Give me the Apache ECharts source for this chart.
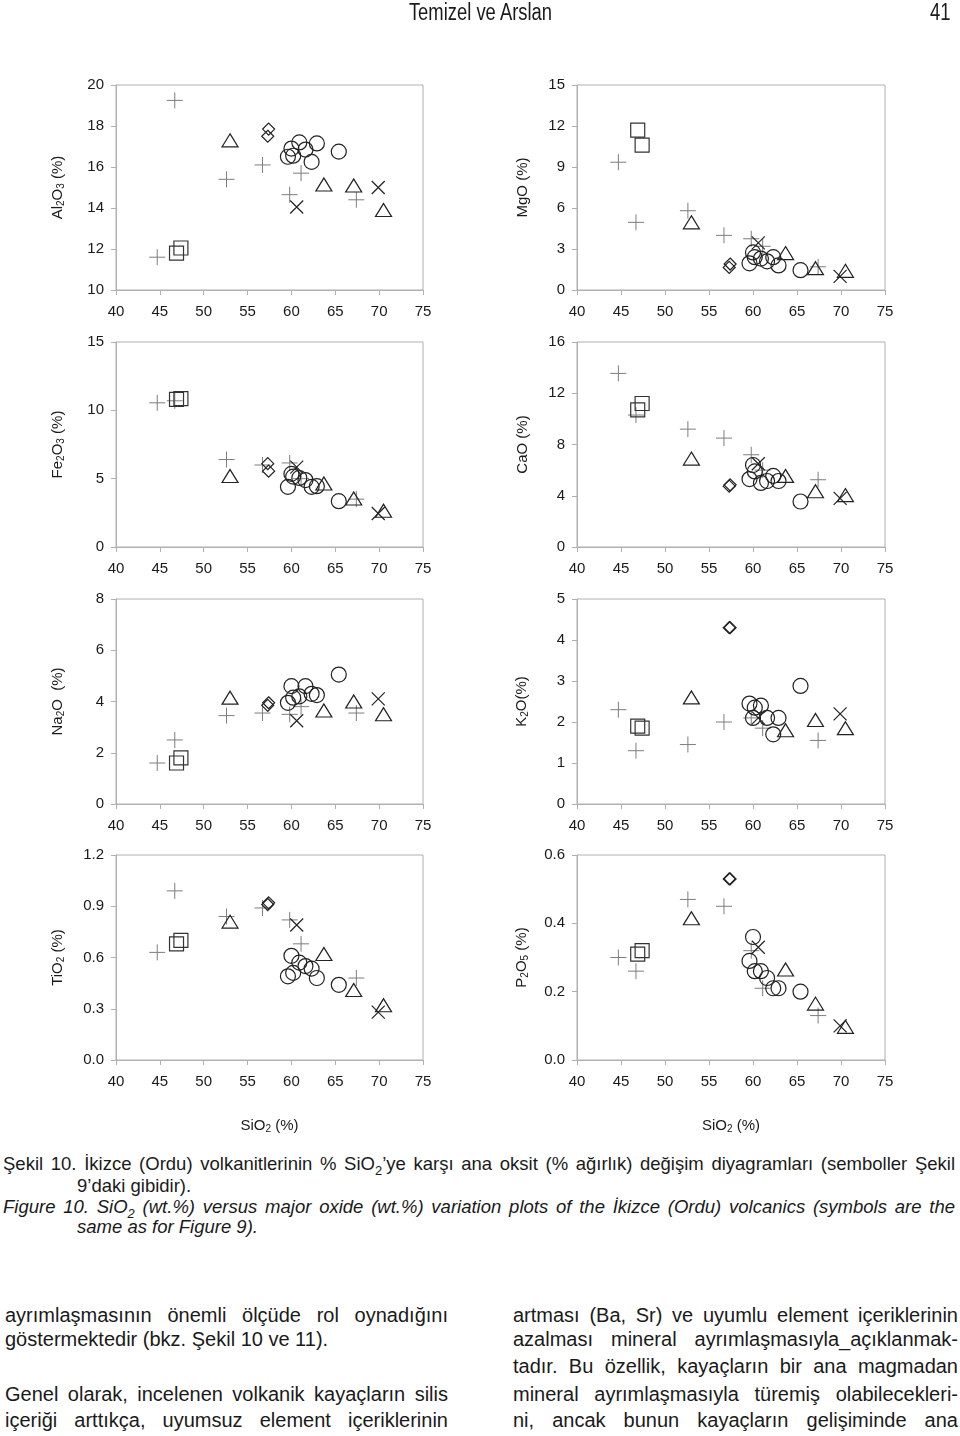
<!DOCTYPE html>
<html><head><meta charset="utf-8">
<script src="https://cdn.jsdelivr.net/npm/echarts/dist/echarts.min.js"></script>
<style>
html,body{margin:0;padding:0;background:#fff}
body{width:960px;height:1436px;position:relative;overflow:hidden;font-family:'Liberation Sans',Arial,Helvetica,sans-serif;color:#1a1a1a}
#chart{position:absolute;left:0;top:0;width:960px;height:1140px;z-index:1}
.ln{position:absolute;white-space:nowrap;transform-origin:0 0;z-index:2}
.j{text-align:justify;text-align-last:justify}
.cap{font-size:18.5px;line-height:21px}
.it{font-style:italic}
.body{font-size:20px;line-height:24px}
sub{font-size:70%;line-height:0;vertical-align:-0.35em}
</style></head>
<body>
<div class="ln" style="left:0;top:0px;width:960px;text-align:center;font-size:23px;line-height:24px;"><span style="display:inline-block;transform:scaleX(0.8)">Temizel ve Arslan</span></div>
<div class="ln" style="left:930px;top:0px;font-size:23px;line-height:24px;"><span style="display:inline-block;transform:scaleX(0.8);transform-origin:0 0">41</span></div>
<div id="chart"></div>

<div class="ln cap j" style="left:3px;top:1153px;width:952px">Şekil 10. İkizce (Ordu) volkanitlerinin % SiO<sub>2</sub>’ye karşı ana oksit (% ağırlık) değişim diyagramları (semboller Şekil</div>
<div class="ln cap" style="left:77px;top:1175px">9’daki gibidir).</div>
<div class="ln cap j it" style="left:3px;top:1196px;width:952px">Figure 10. SiO<sub>2</sub> (wt.%) versus major oxide (wt.%) variation plots of the İkizce (Ordu) volcanics (symbols are the</div>
<div class="ln cap it" style="left:77px;top:1216px">same as for Figure 9).</div>

<div class="ln body j" style="left:5px;top:1303px;width:443px">ayrımlaşmasının önemli ölçüde rol oynadığını</div>
<div class="ln body" style="left:5px;top:1327px">göstermektedir (bkz. Şekil 10 ve 11).</div>
<div class="ln body j" style="left:5px;top:1382px;width:443px">Genel olarak, incelenen volkanik kayaçların silis</div>
<div class="ln body j" style="left:5px;top:1408px;width:443px">içeriği arttıkça, uyumsuz element içeriklerinin</div>

<div class="ln body j" style="left:513px;top:1303px;width:445px">artması (Ba, Sr) ve uyumlu element içeriklerinin</div>
<div class="ln body j" style="left:513px;top:1327px;width:445px">azalması mineral ayrımlaşmasıyla_açıklanmak-</div>
<div class="ln body j" style="left:513px;top:1354px;width:445px">tadır. Bu özellik, kayaçların bir ana magmadan</div>
<div class="ln body j" style="left:513px;top:1382px;width:445px">mineral ayrımlaşmasıyla türemiş olabilecekleri-</div>
<div class="ln body j" style="left:513px;top:1408px;width:445px">ni, ancak bunun kayaçların gelişiminde ana</div>

<script>
// ---- SiO2 (x) values for each symbol group ----
const siPlus   = [44.7, 46.7, 52.6, 56.7, 59.8, 61.1, 67.4];
const siSquare = [46.9, 47.4];
const siTri    = [53.0, 63.7, 67.1, 70.5];
const siDia    = [57.3, 57.4];
const siCirc   = [59.6, 60.0, 60.2, 60.9, 61.6, 62.3, 62.9, 65.4];
const siCross  = [60.6, 69.9];

// ---- Al2O3 ----
const al2o3Plus   = [11.6, 19.25, 15.4, 16.1, 14.65, 15.7, 14.4];
const al2o3Square = [11.8, 12.05];
const al2o3Tri    = [17.3, 15.15, 15.1, 13.9];
const al2o3Dia    = [17.5, 17.85];
const al2o3Circ   = [16.5, 16.9, 16.55, 17.2, 16.85, 16.25, 17.15, 16.75];
const al2o3Cross  = [14.05, 15.0];
// ---- MgO ----
const mgoPlus   = [9.35, 4.95, 5.8, 4.0, 3.75, 3.2, 1.7];
const mgoSquare = [11.7, 10.6];
const mgoTri    = [4.95, 2.7, 1.6, 1.4];
const mgoDia    = [1.65, 1.9];
const mgoCirc   = [1.95, 2.75, 2.4, 2.3, 2.1, 2.4, 1.8, 1.45];
const mgoCross  = [3.45, 1.0];
// ---- Fe2O3 ----
const fe2o3Plus   = [10.55, 10.7, 6.4, 6.0, 6.15, 5.0, 3.5];
const fe2o3Square = [10.8, 10.85];
const fe2o3Tri    = [5.2, 4.65, 3.55, 2.65];
const fe2o3Dia    = [6.1, 5.55];
const fe2o3Circ   = [4.4, 5.35, 5.15, 5.05, 4.9, 4.4, 4.45, 3.35];
const fe2o3Cross  = [5.85, 2.45];
// ---- CaO ----
const caoPlus   = [13.55, 10.3, 9.2, 8.5, 7.2, 6.0, 5.25];
const caoSquare = [10.7, 11.2];
const caoTri    = [6.9, 5.55, 4.35, 4.05];
const caoDia    = [4.75, 4.85];
const caoCirc   = [5.3, 6.4, 5.9, 5.0, 5.15, 5.55, 5.15, 3.55];
const caoCross  = [6.5, 3.8];
// ---- Na2O ----
const na2oPlus   = [1.6, 2.5, 3.45, 3.55, 3.5, 3.8, 3.55];
const na2oSquare = [1.6, 1.8];
const na2oTri    = [4.15, 3.65, 4.0, 3.5];
const na2oDia    = [3.85, 3.95];
const na2oCirc   = [3.95, 4.6, 4.15, 4.2, 4.6, 4.3, 4.25, 5.05];
const na2oCross  = [3.25, 4.1];
// ---- K2O ----
const k2oPlus   = [2.3, 1.3, 1.45, 2.0, 2.1, 1.85, 1.55];
const k2oSquare = [1.9, 1.85];
const k2oTri    = [2.6, 1.8, 2.05, 1.85];
const k2oDia    = [4.3, 4.3];
const k2oCirc   = [2.45, 2.1, 2.35, 2.4, 2.1, 1.7, 2.1, 2.88];
const k2oCross  = [2.1, 2.2];
// ---- TiO2 ----
const tio2Plus   = [0.63, 0.99, 0.84, 0.89, 0.82, 0.68, 0.48];
const tio2Square = [0.68, 0.70];
const tio2Tri    = [0.81, 0.62, 0.41, 0.32];
const tio2Dia    = [0.91, 0.92];
const tio2Circ   = [0.49, 0.61, 0.51, 0.57, 0.55, 0.535, 0.48, 0.44];
const tio2Cross  = [0.79, 0.28];
// ---- P2O5 ----
const p2o5Plus   = [0.30, 0.26, 0.47, 0.45, 0.32, 0.21, 0.13];
const p2o5Square = [0.31, 0.32];
const p2o5Tri    = [0.415, 0.265, 0.165, 0.097];
const p2o5Dia    = [0.53, 0.53];
const p2o5Circ   = [0.29, 0.36, 0.26, 0.26, 0.24, 0.21, 0.21, 0.20];
const p2o5Cross  = [0.33, 0.10];

// ---- axis labels / ranges ----
const xTicks = [40, 45, 50, 55, 60, 65, 70, 75];
const yNames = ['{n|Al}{s|2}{n|O}{s|3}{n| (%)}', '{n|MgO (%)}', '{n|Fe}{s|2}{n|O}{s|3}{n| (%)}', '{n|CaO (%)}',
                '{n|Na}{s|2}{n|O  (%)}', '{n|K}{s|2}{n|O(%)}', '{n|TiO}{s|2}{n| (%)}', '{n|P}{s|2}{n|O}{s|5}{n| (%)}'];
const yMin = [10, 0, 0, 0, 0, 0, 0, 0];
const yMax = [20, 15, 15, 16, 8, 5, 1.2, 0.6];
const yStep = [2, 3, 5, 4, 2, 1, 0.3, 0.2];
const yDec = [0, 0, 0, 0, 0, 0, 1, 1];

const panels = [
  [al2o3Plus, al2o3Square, al2o3Tri, al2o3Dia, al2o3Circ, al2o3Cross],
  [mgoPlus, mgoSquare, mgoTri, mgoDia, mgoCirc, mgoCross],
  [fe2o3Plus, fe2o3Square, fe2o3Tri, fe2o3Dia, fe2o3Circ, fe2o3Cross],
  [caoPlus, caoSquare, caoTri, caoDia, caoCirc, caoCross],
  [na2oPlus, na2oSquare, na2oTri, na2oDia, na2oCirc, na2oCross],
  [k2oPlus, k2oSquare, k2oTri, k2oDia, k2oCirc, k2oCross],
  [tio2Plus, tio2Square, tio2Tri, tio2Dia, tio2Circ, tio2Cross],
  [p2o5Plus, p2o5Square, p2o5Tri, p2o5Dia, p2o5Circ, p2o5Cross]
];
const groupSi = [siPlus, siSquare, siTri, siDia, siCirc, siCross];
const groupStyle = [
  {symbol: 'path://M5,0L5,10M0,5L10,5', size: 16, color: '#7d7d7d', w: 1},
  {symbol: 'rect', size: 14, color: '#333', w: 1.2},
  {symbol: 'triangle', size: [16, 13], color: '#222', w: 1.2},
  {symbol: 'diamond', size: 12, color: '#222', w: 1.2},
  {symbol: 'circle', size: 15, color: '#222', w: 1.2},
  {symbol: 'path://M0,0L10,10M10,0L0,10', size: 13, color: '#222', w: 1.2}
];

const colLeft = [116, 577], colWidth = [307, 308];
const rowTop = [85, 342, 599, 855], rowH = 205;
const FONT = "'Liberation Sans', Arial, Helvetica, sans-serif";
const AX = '#b0b0b0';

const grids = [], xAxes = [], yAxes = [], series = [];
panels.forEach((groups, i) => {
  const c = i % 2, r = Math.floor(i / 2);
  grids.push({left: colLeft[c], width: colWidth[c], top: rowTop[r], height: rowH,
    show: true, borderColor: AX, borderWidth: 1, backgroundColor: 'transparent'});
  const bottom = r === 3;
  xAxes.push({gridIndex: i, type: 'value', min: xTicks[0], max: xTicks[xTicks.length - 1], interval: 5,
    axisLine: {show: true, onZero: false, lineStyle: {color: AX}},
    axisTick: {show: true, length: 5, lineStyle: {color: AX}},
    splitLine: {show: false},
    axisLabel: {color: '#1a1a1a', fontSize: 15, fontFamily: FONT, margin: 14},
    name: bottom ? '{n|SiO}{s|2}{n| (%)}' : '', nameLocation: 'middle', nameGap: 57,
    nameTextStyle: {color: '#1a1a1a', fontFamily: FONT,
      rich: {n: {fontSize: 15, fontFamily: FONT, color: '#1a1a1a'}, s: {fontSize: 10, fontFamily: FONT, color: '#1a1a1a', verticalAlign: 'bottom', padding: [7, 0, 0, 0]}}}
  });
  yAxes.push({gridIndex: i, type: 'value', min: yMin[i], max: yMax[i], interval: yStep[i],
    axisLine: {show: true, onZero: false, lineStyle: {color: AX}},
    axisTick: {show: true, length: 5, lineStyle: {color: AX}},
    splitLine: {show: false},
    axisLabel: {color: '#1a1a1a', fontSize: 15, fontFamily: FONT, margin: 12,
      formatter: v => v.toFixed(yDec[i])},
    name: yNames[i], nameLocation: 'middle', nameRotate: 90, nameGap: c === 0 ? 50 : 47,
    nameTextStyle: {color: '#1a1a1a', fontFamily: FONT,
      rich: {n: {fontSize: 15, fontFamily: FONT, color: '#1a1a1a'}, s: {fontSize: 10, fontFamily: FONT, color: '#1a1a1a', verticalAlign: 'bottom', padding: [7, 0, 0, 0]}}}
  });
  groups.forEach((vals, g) => {
    const st = groupStyle[g];
    series.push({type: 'scatter', xAxisIndex: i, yAxisIndex: i, silent: true,
      symbol: st.symbol, symbolSize: st.size,
      itemStyle: {color: 'rgba(0,0,0,0)', borderColor: st.color, borderWidth: st.w, opacity: 1},
      emphasis: {disabled: true},
      data: vals.map((v, k) => [groupSi[g][k], v])});
  });
});

const chart = echarts.init(document.getElementById('chart'), null, {renderer: 'canvas'});
chart.setOption({animation: false, backgroundColor: 'transparent', grid: grids, xAxis: xAxes, yAxis: yAxes, series: series});
</script>
</body></html>
